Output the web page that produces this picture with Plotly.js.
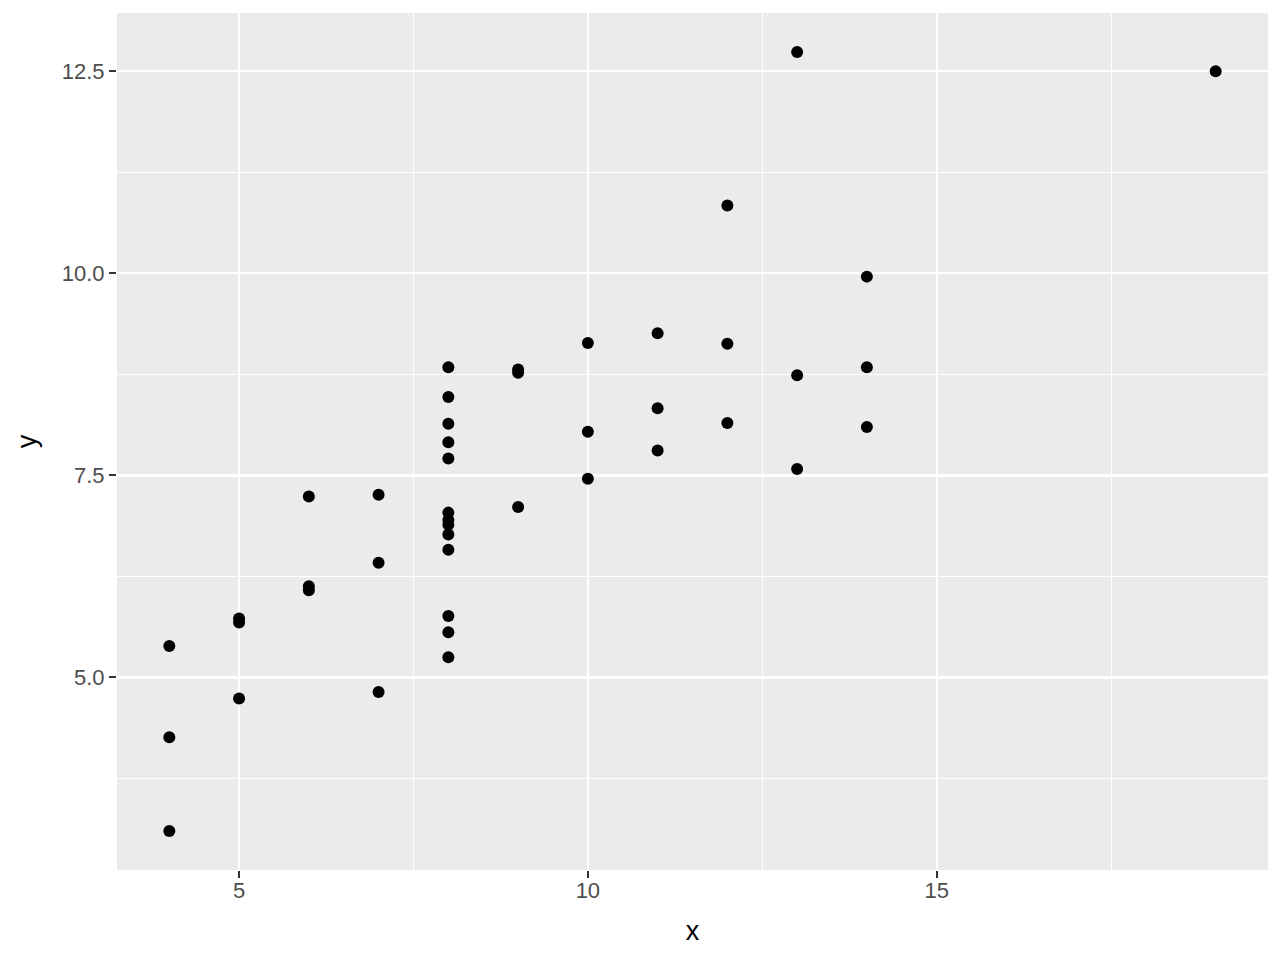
<!DOCTYPE html>
<html>
<head>
<meta charset="utf-8">
<script src="https://cdn.plot.ly/plotly-3.0.1.min.js"></script>
<style>html,body{margin:0;padding:0;background:#fff;}#chart{width:1280px;height:960px;}</style>
</head>
<body>
<div id="chart"></div>
<script>
// Anscombe's quartet, all four sets pooled
const x123 = [10, 8, 13, 9, 11, 14, 6, 4, 12, 7, 5];
const y1 = [8.04, 6.95, 7.58, 8.81, 8.33, 9.96, 7.24, 4.26, 10.84, 4.82, 5.68];
const y2 = [9.14, 8.14, 8.74, 8.77, 9.26, 8.10, 6.13, 3.10, 9.13, 7.26, 4.74];
const y3 = [7.46, 6.77, 12.74, 7.11, 7.81, 8.84, 6.08, 5.39, 8.15, 6.42, 5.73];
const x4 = [8, 8, 8, 8, 8, 8, 8, 19, 8, 8, 8];
const y4 = [6.58, 5.76, 7.71, 8.84, 8.47, 7.04, 5.25, 12.50, 5.56, 7.91, 6.89];

const xTicks = [5, 10, 15];
const xTickText = ['5', '10', '15'];
const xMinor = [7.5, 12.5, 17.5];
const yTicks = [5, 7.5, 10, 12.5];
const yTickText = ['5.0', '7.5', '10.0', '12.5'];
const yMinor = [3.75, 6.25, 8.75, 11.25];

const xs = [].concat(x123, x123, x123, x4);
const ys = [].concat(y1, y2, y3, y4);

const xmin = Math.min(...xs), xmax = Math.max(...xs);
const ymin = Math.min(...ys), ymax = Math.max(...ys);
const xpad = (xmax - xmin) * 0.05, ypad = (ymax - ymin) * 0.05;

const trace = {
  x: xs, y: ys, type: 'scatter', mode: 'markers',
  marker: {color: '#000000', size: 12, line: {width: 0}},
  hoverinfo: 'x+y'
};

const FONT = 'Liberation Sans, Arial, Helvetica, sans-serif';
const titleFont = {family: FONT, size: 27, color: '#000000'};

const axisCommon = {
  showline: false, zeroline: false,
  gridcolor: '#FFFFFF', gridwidth: 2.2,
  ticks: 'outside', ticklen: 7, tickwidth: 2, tickcolor: '#333333',
  tickfont: {family: FONT, size: 22, color: '#4D4D4D'}
};

const layout = {
  width: 1280, height: 960,
  paper_bgcolor: '#FFFFFF', plot_bgcolor: '#EBEBEB',
  margin: {l: 117, r: 12, t: 13, b: 90},
  showlegend: false,
  xaxis: Object.assign({}, axisCommon, {
    range: [xmin - xpad, xmax + xpad],
    tickmode: 'array', tickvals: xTicks, ticktext: xTickText,
    ticklabelstandoff: -6,
    minor: {tickmode: 'array', tickvals: xMinor, showgrid: true, gridcolor: '#FFFFFF', gridwidth: 1.1, ticks: ''},
    title: {text: 'x', standoff: 18, font: titleFont}
  }),
  yaxis: Object.assign({}, axisCommon, {
    range: [ymin - ypad, ymax + ypad],
    tickmode: 'array', tickvals: yTicks, ticktext: yTickText,
    minor: {tickmode: 'array', tickvals: yMinor, showgrid: true, gridcolor: '#FFFFFF', gridwidth: 1.1, ticks: ''},
    title: {text: 'y', standoff: 17, font: titleFont}
  })
};

Plotly.newPlot('chart', [trace], layout, {displayModeBar: false, staticPlot: true});
</script>
</body>
</html>
